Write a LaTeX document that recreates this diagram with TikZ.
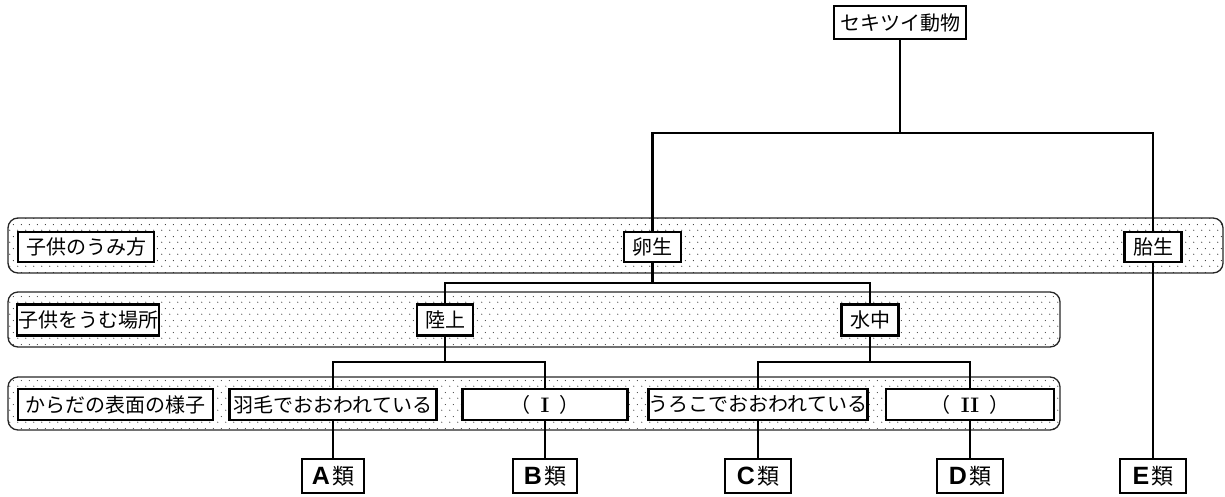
\documentclass[tikz,border=0pt]{standalone}
\usepackage{fontspec}
\newfontfamily\jp{Noto Sans CJK JP}
\newfontfamily\lat{Liberation Sans}
\usetikzlibrary{patterns}
\pgfdeclarepatternformonly{sdots}{\pgfpointorigin}{\pgfpoint{8pt}{12pt}}{\pgfpoint{8pt}{12pt}}{%
  \pgfpathcircle{\pgfpoint{2pt}{3pt}}{0.65pt}%
  \pgfpathcircle{\pgfpoint{6pt}{9pt}}{0.65pt}%
  \pgfusepath{fill}}
\pgfdeclarelayer{bg}
\pgfsetlayers{bg,main}
\tikzset{
  band/.style={draw=black!85, line width=1.3pt, rounded corners=10pt, pattern=sdots, pattern color=black!80},
  bx/.style={draw, line width=2.8pt, fill=white, inner sep=0pt, minimum height=30pt, font=\jp\fontsize{20}{20}\selectfont},
  cls/.style={bx, minimum height=34pt, minimum width=64pt},
  ln/.style={line width=2.2pt},
}
\newcommand{\clsname}[1]{{\lat\bfseries\fontsize{25}{25}\selectfont #1}\hspace{2pt}{\fontsize{22}{22}\selectfont 類}}
\newcommand{\romnum}[1]{（\hspace{10pt}{\rmfamily\bfseries\fontsize{21}{21}\selectfont #1}\hspace{10pt}）}
\begin{document}
\begin{tikzpicture}[x=1pt,y=-1pt]
\useasboundingbox (0,0) rectangle (1225,496);
% nodes
\node[bx, minimum width=132pt, minimum height=33pt] (top) at (900,22.5) {セキツイ動物};
\node[bx, minimum width=136pt] (umikata) at (86,247) {子供のうみ方};
\node[bx, minimum width=57pt] (ransei) at (652.5,247) {卵生};
\node[bx, minimum width=57pt] (taisei) at (1153,247) {胎生};
\node[bx, minimum width=142pt, minimum height=31pt] (basho) at (88,320) {子供をうむ場所};
\node[bx, minimum width=56pt, minimum height=31pt] (rikujo) at (445,320) {陸上};
\node[bx, minimum width=57pt, minimum height=31pt] (suichu) at (870,320) {水中};
\node[bx, minimum width=195pt, minimum height=31pt] (karada) at (115.5,404.5) {からだの表面の様子};
\node[bx, minimum width=207pt, minimum height=31pt] (umo) at (333,404.5) {羽毛でおおわれている};
\node[bx, minimum width=165pt, minimum height=31pt] (I) at (545,404.5) {\romnum{I}};
\node[bx, minimum width=217pt, minimum height=31pt] (uroko) at (758,404.5) {うろこでおおわれている};
\node[bx, minimum width=168pt, minimum height=31pt] (II) at (970,404.5) {\romnum{II}};
\node[cls, minimum width=62pt] (A) at (333,476) {\clsname{A}};
\node[cls] (B) at (545,476) {\clsname{B}};
\node[cls, minimum width=66pt] (C) at (758,476) {\clsname{C}};
\node[cls, minimum width=66pt] (D) at (970,476) {\clsname{D}};
\node[cls, minimum width=66pt] (E) at (1153,476) {\clsname{E}};
\coordinate (j1) at (900,133);
\coordinate (j2) at (652.5,283);
\coordinate (j3) at (445,362);
\coordinate (j4) at (870,362);
\begin{pgfonlayer}{bg}
\draw[band] (8,218) rectangle (1223,273);
\draw[band] (8,292) rectangle (1060,347);
\draw[band] (8,377) rectangle (1060,430);
\draw[ln] (top.south) -- (j1) -| (ransei.north);
\draw[ln] (j1) -| (taisei.north);
\draw[ln] (ransei.south) -- (j2) -| (rikujo.north);
\draw[ln] (j2) -| (suichu.north);
\draw[ln] (rikujo.south) -- (j3) -| (umo.north);
\draw[ln] (j3) -| (I.north);
\draw[ln] (suichu.south) -- (j4) -| (uroko.north);
\draw[ln] (j4) -| (II.north);
\draw[ln] (umo.south) -- (A.north);
\draw[ln] (I.south) -- (B.north);
\draw[ln] (uroko.south) -- (C.north);
\draw[ln] (II.south) -- (D.north);
\draw[ln] (taisei.south) -- (E.north);
\end{pgfonlayer}
\end{tikzpicture}
\end{document}
